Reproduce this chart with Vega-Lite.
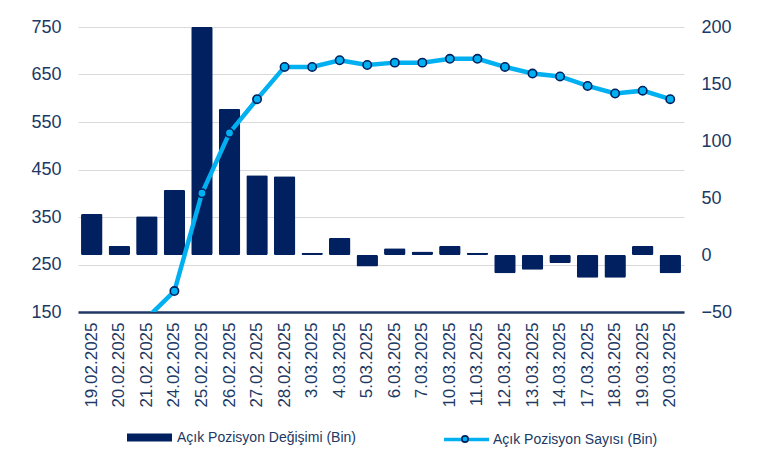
{
  "$schema": "https://vega.github.io/schema/vega-lite/v6.json",
  "width": 606,
  "height": 285,
  "autosize": {"type": "none"},
  "padding": {"left": 78, "top": 27, "right": 80, "bottom": 142},
  "background": "white",
  "config": {
    "view": {"stroke": null},
    "font": "Liberation Sans",
    "axis": {"labelFont": "Liberation Sans", "labelColor": "#203864"}
  },
  "data": {
    "values": [
      {"date": "19.02.2025", "change": 36, "count": 95},
      {"date": "20.02.2025", "change": 8, "count": 103},
      {"date": "21.02.2025", "change": 34, "count": 137},
      {"date": "24.02.2025", "change": 57, "count": 194},
      {"date": "25.02.2025", "change": 200, "count": 400},
      {"date": "26.02.2025", "change": 128, "count": 527},
      {"date": "27.02.2025", "change": 70, "count": 598},
      {"date": "28.02.2025", "change": 69, "count": 666},
      {"date": "3.03.2025", "change": 2, "count": 666},
      {"date": "4.03.2025", "change": 15, "count": 680},
      {"date": "5.03.2025", "change": -10, "count": 670},
      {"date": "6.03.2025", "change": 6, "count": 675},
      {"date": "7.03.2025", "change": 3, "count": 675},
      {"date": "10.03.2025", "change": 8, "count": 683},
      {"date": "11.03.2025", "change": 2, "count": 683},
      {"date": "12.03.2025", "change": -16, "count": 666},
      {"date": "13.03.2025", "change": -13, "count": 652},
      {"date": "14.03.2025", "change": -7, "count": 646},
      {"date": "17.03.2025", "change": -20, "count": 626},
      {"date": "18.03.2025", "change": -20, "count": 610},
      {"date": "19.03.2025", "change": 8, "count": 616},
      {"date": "20.03.2025", "change": -16, "count": 598}
    ]
  },
  "encoding": {
    "x": {
      "field": "date",
      "type": "ordinal",
      "sort": null,
      "scale": {"paddingInner": 0.22, "paddingOuter": 0.11},
      "axis": {
        "title": null,
        "labelAngle": -90,
        "labelAlign": "right",
        "labelBaseline": "middle",
        "labelFontSize": 17,
        "labelPadding": 10,
        "ticks": false,
        "domainColor": "#203864",
        "domainWidth": 2.5
      }
    }
  },
  "layer": [
    {
      "mark": {"type": "bar", "cornerRadius": 1.5},
      "encoding": {
        "y": {
          "field": "change",
          "type": "quantitative",
          "scale": {"domain": [-50, 200], "nice": false},
          "axis": {
            "orient": "right",
            "values": [-50, 0, 50, 100, 150, 200],
            "grid": false,
            "title": null,
            "domain": false,
            "ticks": false,
            "labelPadding": 17,
            "labelFontSize": 18
          }
        },
        "color": {
          "datum": "Açık Pozisyon Değişimi (Bin)",
          "scale": {"range": ["#002060"]},
          "legend": {
            "orient": "none",
            "legendX": 49,
            "legendY": 388,
            "title": null,
            "symbolType": "M-1,-0.18H1V0.18H-1Z",
            "symbolSize": 2025,
            "symbolStrokeWidth": 0,
            "labelFont": "Liberation Sans",
            "labelFontSize": 14,
            "labelColor": "#203864",
            "labelOffset": 5,
            "labelLimit": 400
          }
        }
      }
    },
    {
      "mark": {"type": "line", "strokeWidth": 4.5, "clip": true},
      "encoding": {
        "y": {
          "field": "count",
          "type": "quantitative",
          "scale": {"domain": [150, 750], "nice": false},
          "axis": {
            "orient": "left",
            "values": [150, 250, 350, 450, 550, 650, 750],
            "grid": true,
            "gridColor": "#D9D9D9",
            "gridWidth": 1.2,
            "title": null,
            "domain": false,
            "ticks": false,
            "labelPadding": 17,
            "labelFontSize": 18
          }
        },
        "stroke": {
          "datum": "Açık Pozisyon Sayısı (Bin)",
          "scale": {"range": ["#00B0F0"]},
          "legend": {
            "orient": "none",
            "legendX": 364,
            "legendY": 388,
            "title": null,
            "symbolType": "stroke",
            "symbolSize": 2025,
            "symbolStrokeWidth": 3.5,
            "labelFont": "Liberation Sans",
            "labelFontSize": 14,
            "labelColor": "#203864",
            "labelOffset": 2,
            "labelLimit": 400
          }
        }
      }
    },
    {
      "mark": {"type": "point", "filled": true, "size": 70, "stroke": "#002060", "strokeWidth": 1.6, "opacity": 1, "clip": true},
      "encoding": {
        "y": {
          "field": "count",
          "type": "quantitative",
          "scale": {"domain": [150, 750], "nice": false},
          "axis": null
        },
        "fill": {
          "datum": "pt",
          "scale": {"range": ["#00B0F0"]},
          "legend": {
            "orient": "none",
            "legendX": 383,
            "legendY": 408,
            "title": null,
            "symbolType": "circle",
            "symbolSize": 40,
            "symbolStrokeColor": "#002060",
            "symbolStrokeWidth": 1.6,
            "labelExpr": "''",
            "labelFontSize": 1
          }
        }
      }
    }
  ],
  "resolve": {"scale": {"y": "independent", "color": "independent", "stroke": "independent", "fill": "independent"}}
}
